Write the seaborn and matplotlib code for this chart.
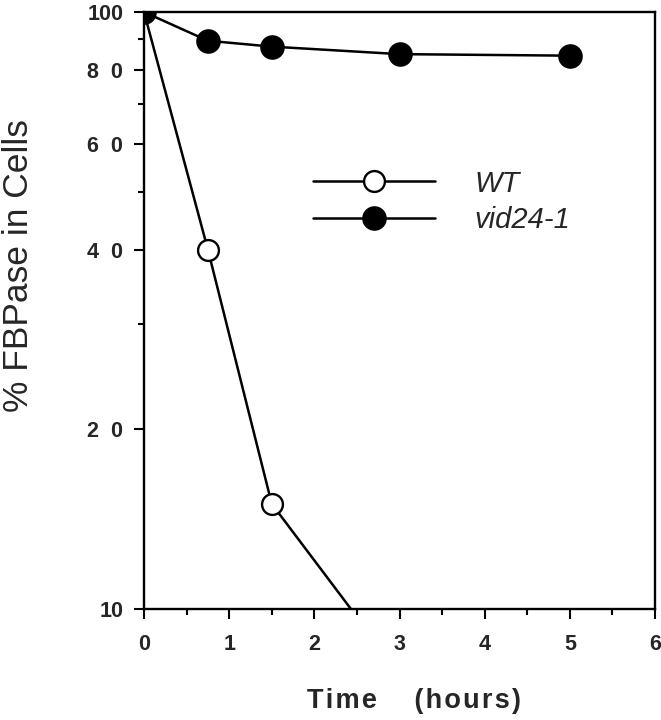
import matplotlib
matplotlib.use("Agg")
import matplotlib.pyplot as plt
import seaborn as sns
import numpy as np
from matplotlib.ticker import FixedLocator, NullFormatter

# data
time_wt = [0, 0.75, 1.5, 3.0]
fbpase_wt = [100, 40, 15, 7.8]
time_vid = [0, 0.75, 1.5, 3.0, 5.0]
fbpase_vid = [100, 89.5, 87.5, 85, 84.5]
label_wt = "WT"
label_vid = "vid24-1"
y_major = [10, 20, 40, 60, 80, 100]
y_major_labels = ["10", "2  0", "4  0", "6  0", "8  0", "100"]
y_minor = [30, 50, 70, 90]
x_major = [0, 1, 2, 3, 4, 5, 6]
x_minor = [0.5, 1.5, 2.5, 3.5, 4.5, 5.5]

sns.set_style("ticks")
plt.rcParams['font.family'] = ['Liberation Sans', 'DejaVu Sans']

fig = plt.figure(figsize=(6.61, 7.2), dpi=100)
ax = fig.add_axes([144/661, 1-609/720, (655-144)/661, (609-12)/720])

sns.lineplot(x=time_wt, y=fbpase_wt, ax=ax, color='black', lw=1.8,
             marker='o', markersize=15, markerfacecolor='white',
             markeredgecolor='black', markeredgewidth=1.7, label=label_wt)
sns.lineplot(x=time_vid, y=fbpase_vid, ax=ax, color='black', lw=1.8,
             marker='o', markersize=16, markerfacecolor='black',
             markeredgecolor='black', markeredgewidth=1.7, label=label_vid)

ax.set_yscale('log')
ax.set_xlim(0, 6)
ax.set_ylim(10, 100)
ax.yaxis.set_major_locator(FixedLocator(y_major))
ax.set_yticklabels(y_major_labels)
ax.yaxis.set_minor_locator(FixedLocator(y_minor))
ax.yaxis.set_minor_formatter(NullFormatter())
ax.set_xticks(x_major)
ax.set_xticks(x_minor, minor=True)

for s in ax.spines.values():
    s.set_linewidth(1.7)
    s.set_color('black')
    s.set_visible(True)

ax.tick_params(axis='both', which='major', length=7, width=1.5, direction='out',
               color='black', labelsize=15.5)
ax.tick_params(axis='both', which='minor', length=4, width=1.5, direction='out', color='black')
ax.tick_params(axis='y', which='major', pad=8)
ax.tick_params(axis='x', which='major', pad=11)
for lab in ax.get_xticklabels() + ax.get_yticklabels():
    lab.set_fontweight('bold')

hs = "\u200a"
xlabel_text = hs.join("Time") + "     " + hs.join("(hours)")
ax.set_xlabel(xlabel_text, fontsize=19.5, fontweight='bold')
ax.xaxis.set_label_coords(0.528, (609-701)/597)
ax.xaxis.label.set_va('center')
ax.set_ylabel("% FBPase in Cells", fontsize=25.5)
ax.yaxis.set_label_coords(-0.245, 0.576)
ax.yaxis.label.set_va('center')

leg = ax.legend(loc='center left', bbox_to_anchor=((313-144)/511, (609-202)/597),
                frameon=False, fontsize=21, handlelength=4.18, handletextpad=1.37,
                labelspacing=0.3, borderpad=0, borderaxespad=0)
for t in leg.get_texts():
    t.set_fontstyle('italic')

fig.savefig("out.png", dpi=100)
